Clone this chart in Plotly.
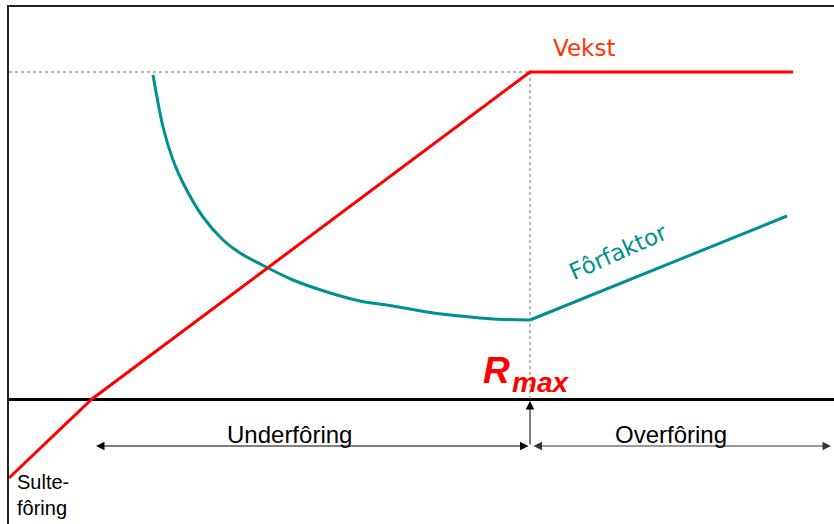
import plotly.graph_objects as go

# Conceptual data (x = ration, y = growth / feed factor; 0 = maintenance line)
growth_ration = [0, 83, 521, 784]
growth_value = [-79, 0, 327, 327]

ff_curve_ration = [144, 154, 164, 174, 194, 214, 231, 259, 284, 318, 351, 384, 418, 451, 484, 519, 521]
ff_curve_value = [324, 272, 239, 216, 182, 159, 146, 131, 119, 107, 98, 93, 87, 83, 80, 79, 79]
ff_over_ration = [521, 778]
ff_over_value = [79, 183]

rmax = 521
max_growth = 327
under_start = 87
over_end = 822
arrow_level = -47

RED = "#FF0000"
TEAL = "#009090"

fig = go.Figure()

# dotted guide lines
fig.add_trace(go.Scatter(x=[0, rmax], y=[max_growth, max_growth], mode="lines",
                         line=dict(color="#707070", width=1, dash="dot"), hoverinfo="skip"))
fig.add_trace(go.Scatter(x=[rmax, rmax], y=[0, max_growth], mode="lines",
                         line=dict(color="#707070", width=1, dash="dot"), hoverinfo="skip"))

# feed factor
fig.add_trace(go.Scatter(x=ff_curve_ration, y=ff_curve_value, mode="lines",
                         line=dict(color=TEAL, width=3, shape="spline", smoothing=0.8),
                         hoverinfo="skip"))
fig.add_trace(go.Scatter(x=ff_over_ration, y=ff_over_value, mode="lines",
                         line=dict(color=TEAL, width=3), hoverinfo="skip"))

# growth
fig.add_trace(go.Scatter(x=growth_ration, y=growth_value, mode="lines",
                         line=dict(color=RED, width=3), hoverinfo="skip"))

ann = []
# arrows
ann.append(dict(x=under_start, y=arrow_level, ax=rmax, ay=arrow_level, xref="x", yref="y",
                axref="x", ayref="y", text="", showarrow=True, arrowhead=2, arrowside="end+start",
                arrowsize=1.7, arrowwidth=1, arrowcolor="black", standoff=0, startstandoff=0))
ann.append(dict(x=over_end, y=arrow_level, ax=rmax + 2, ay=arrow_level, xref="x", yref="y",
                axref="x", ayref="y", text="", showarrow=True, arrowhead=2, arrowside="end+start",
                arrowsize=1.7, arrowwidth=1, arrowcolor="#333333", standoff=0, startstandoff=0))
ann.append(dict(x=rmax, y=-2, ax=rmax, ay=arrow_level, xref="x", yref="y",
                axref="x", ayref="y", text="", showarrow=True, arrowhead=2,
                arrowsize=1.7, arrowwidth=1, arrowcolor="black", standoff=0))

# texts
ann.append(dict(x=575, y=351, xref="x", yref="y", text="Vekst", showarrow=False,
                font=dict(family="DejaVu Sans", size=23, color="#FF3300")))
ann.append(dict(x=609, y=147, xref="x", yref="y", text="Fôrfaktor", showarrow=False,
                textangle=-24, font=dict(family="DejaVu Sans", size=23, color=TEAL)))
ann.append(dict(x=472, y=28.5, xref="x", yref="y", text="<b><i>R</i></b>", showarrow=False,
                xanchor="left", yanchor="middle",
                font=dict(family="Liberation Sans", size=37, color=RED)))
ann.append(dict(x=501, y=16.5, xref="x", yref="y", text="<b><i>max</i></b>", showarrow=False,
                xanchor="left", yanchor="middle",
                font=dict(family="Liberation Sans", size=28, color=RED)))
ann.append(dict(x=280, y=-35, xref="x", yref="y", text="Underfôring", showarrow=False,
                font=dict(family="Liberation Sans", size=24, color="black")))
ann.append(dict(x=662, y=-35, xref="x", yref="y", text="Overfôring", showarrow=False,
                font=dict(family="Liberation Sans", size=24, color="black")))
ann.append(dict(x=6, y=-96, xref="x", yref="y", text="Sulte-<br>fôring", showarrow=False,
                xanchor="left", yanchor="middle", align="left",
                font=dict(family="Liberation Sans", size=20, color="black")))

fig.update_layout(
    width=834, height=524,
    margin=dict(l=0, r=0, t=0, b=0),
    paper_bgcolor="white", plot_bgcolor="white",
    showlegend=False, hovermode=False,
    annotations=ann,
    xaxis=dict(domain=[9 / 834, 1], range=[0, 825], side="top", showline=True,
               linecolor="#222222", linewidth=2, showgrid=False, zeroline=False,
               showticklabels=False, ticks="", fixedrange=True),
    yaxis=dict(domain=[0, 517 / 524], range=[-125, 392], showline=True,
               linecolor="#222222", linewidth=2, showgrid=False, zeroline=True,
               zerolinecolor="black", zerolinewidth=3, showticklabels=False,
               ticks="", fixedrange=True),
)

fig.write_html("out.html", config={"displayModeBar": False},
               post_script="document.body.style.margin='0';document.body.style.overflow='hidden';")
